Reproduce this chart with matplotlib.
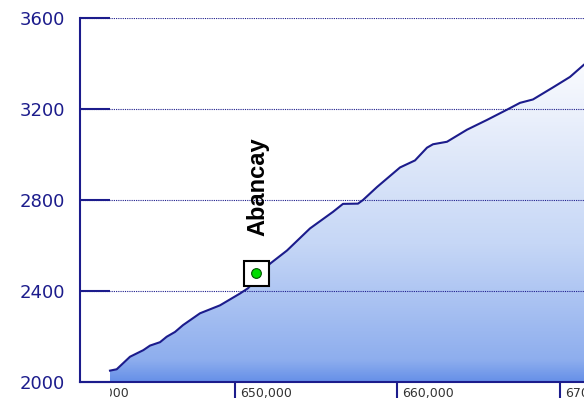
import numpy as np
import matplotlib
matplotlib.use("Agg")
import matplotlib.pyplot as plt
from matplotlib.colors import LinearSegmentedColormap
from matplotlib.transforms import (ScaledTranslation, Bbox, TransformedBbox,
                                   blended_transform_factory)

# elevation profile
distance = [642308, 642720, 643538, 644358, 644769, 645385, 645797, 646308,
            646800, 647846, 649077, 650308, 650800, 652154, 653200, 654615,
            656031, 656646, 657569, 657877, 658738, 660154, 661077, 661815,
            662185, 663046, 664277, 665508, 666738, 667538, 668338, 669569,
            670615, 671477, 672000]
elevation = [2050, 2056, 2111, 2140, 2160, 2175, 2199, 2220,
             2250, 2302, 2337, 2389, 2412, 2520, 2578, 2675,
             2748, 2783, 2784, 2800, 2857, 2943, 2974, 3030,
             3045, 3056, 3109, 3152, 3197, 3227, 3242, 3295,
             3341, 3395, 3420]

town_names = ["Abancay"]
town_distance = [651300]
town_elevation = [2478]

y_ticks = [2000, 2400, 2800, 3200, 3600]
x_ticks = [640000, 650000, 660000, 670000]
x_tick_labels = ["640,000", "650,000", "660,000", "670,000"]

NAVY = "#1c1c8c"
W, H = 584, 405
XLIM = (640462, 672000)
YLIM = (2000, 3600)

fig = plt.figure(figsize=(W / 100, H / 100), dpi=100)
ax = fig.add_axes([80 / W, 23 / H, 512.5 / W, 364 / H])

# gradient fill under the profile
cmap = LinearSegmentedColormap.from_list("fill", [
    (0.0, "#ffffff"), (0.14, "#f8fafe"), (0.35, "#e2eafa"),
    (0.62, "#c6d7f6"), (0.94, "#8eaeee"), (1.0, "#6690e8")])
grad = np.linspace(0, 1, 256).reshape(-1, 1)
im = ax.imshow(grad, cmap=cmap, aspect="auto", origin="upper",
               extent=(XLIM[0], XLIM[1], YLIM[0], YLIM[1]), zorder=0)
poly = ax.fill_between(distance, elevation, YLIM[0], facecolor="none", edgecolor="none")
im.set_clip_path(poly.get_paths()[0], transform=ax.transData)

ax.plot(distance, elevation, color=NAVY, lw=1.5, zorder=3)

# town marker + label
ax.plot(town_distance, town_elevation, ls="none", marker="s", ms=18,
        mfc="white", mec="black", mew=1.5, zorder=5)
ax.plot(town_distance, town_elevation, ls="none", marker="o", ms=7,
        mfc="#00dd00", mec="#005500", mew=0.8, zorder=6)
for name, xd, yd in zip(town_names, town_distance, town_elevation):
    ax.annotate(name, (xd, yd), xytext=(1.5, 27), textcoords="offset points",
                rotation=90, ha="center", va="bottom", fontsize=17,
                fontweight="bold", family="Liberation Sans", color="black")

# axes styling
for side in ("top", "right"):
    ax.spines[side].set_visible(False)
for side in ("left", "bottom"):
    ax.spines[side].set_color(NAVY)
    ax.spines[side].set_linewidth(1.5)

ax.set_yticks(y_ticks)
ax.set_yticklabels([str(v) for v in y_ticks])
ax.set_xticks(x_ticks[1:])
ax.set_xticklabels(x_tick_labels[1:])
ax.set_xlim(*XLIM)
ax.set_ylim(*YLIM)
ax.yaxis.grid(True, linestyle=(0, (1, 1)), color=NAVY, lw=0.8)
ax.set_axisbelow(False)

ax.tick_params(axis="y", direction="in", length=21.6, width=1.5, color=NAVY,
               labelcolor=NAVY, labelsize=13, pad=11)
ax.tick_params(axis="x", direction="out", length=11.5, width=1.5, color=NAVY,
               labelcolor="#333333", labelsize=9, pad=-8)

offset = ScaledTranslation(5 / 100, 0, fig.dpi_scale_trans)
for lab in ax.get_xticklabels():
    lab.set_horizontalalignment("left")
    lab.set_transform(lab.get_transform() + offset)

# first tick label sits left of the plot and is cut off by the frame
trans = blended_transform_factory(ax.transData, ax.transAxes) + \
    ScaledTranslation(5 / 100, -4.9 / 100, fig.dpi_scale_trans)
cut = fig.text(x_ticks[0], 0, x_tick_labels[0], transform=trans, ha="left",
               va="top", fontsize=9, color="#333333", clip_on=True)
cut.set_clip_box(TransformedBbox(Bbox([[110 / W, 0], [1, 1]]), fig.transFigure))

fig.savefig("out.png", dpi=100)
